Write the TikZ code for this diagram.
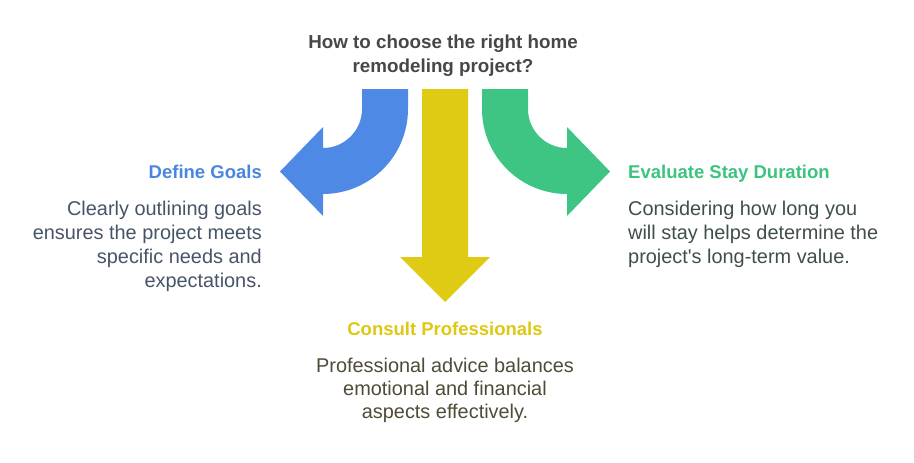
\documentclass[tikz,border=0pt]{standalone}
\usepackage{fontspec}
\setmainfont{Liberation Sans}
\newfontfamily\plainf{Liberation Sans}
\definecolor{cblue}{HTML}{4E89E6}
\definecolor{cyellow}{HTML}{DFCB14}
\definecolor{cgreen}{HTML}{3EC584}
\definecolor{tblue}{HTML}{4A86E0}
\definecolor{tyellow}{HTML}{DDC812}
\definecolor{tgreen}{HTML}{3CC37F}
\definecolor{ttitle}{HTML}{474747}
\definecolor{bblue}{HTML}{475467}
\definecolor{bgreen}{HTML}{3F4F47}
\definecolor{byellow}{HTML}{4F4B36}
\begin{document}
\begin{tikzpicture}[x=1pt,y=-1pt,
  txt/.style={inner sep=0pt,font=\plainf\fontsize{19.9}{24}\selectfont},
  head/.style={inner sep=0pt,font=\plainf\fontsize{18.5}{24}\selectfont\bfseries},
  ttl/.style={inner sep=0pt,font=\plainf\fontsize{18.8}{24}\selectfont\bfseries,text=ttitle}]
\useasboundingbox (0,0) rectangle (914,463);
% blue arrow
\fill[cblue] (362,89) -- (408,89) -- (408,109)
  .. controls (408,155.9) and (369.9,194) .. (323,194)
  -- (323,216) -- (280,171.5) -- (323,127) -- (323,148)
  .. controls (344.5,148) and (362,130.5) .. (362,109) -- cycle;
% yellow arrow
\fill[cyellow] (422,89) -- (468,89) -- (468,257) -- (490,257) -- (445,302) -- (400,257) -- (422,257) -- cycle;
% green arrow
\fill[cgreen] (528,89) -- (482,89) -- (482,109)
  .. controls (482,155.9) and (520.1,194) .. (567,194)
  -- (567,216) -- (610,171.5) -- (567,127) -- (567,148)
  .. controls (545.5,148) and (528,130.5) .. (528,109) -- cycle;
% title
\node[ttl,anchor=base] (t1) at (443,48) {How to choose the right home};
\node[ttl,anchor=base] (t2) at (443,72) {remodeling project?};
% left
\node[head,text=tblue,anchor=base east] (lh) at (262,178) {Define Goals};
\node[txt,text=bblue,anchor=base east] (l1) at (262,215) {Clearly outlining goals};
\node[txt,text=bblue,anchor=base east] (l2) at (262,239) {ensures the project meets};
\node[txt,text=bblue,anchor=base east] (l3) at (262,263) {specific needs and};
\node[txt,text=bblue,anchor=base east] (l4) at (262,287) {expectations.};
% right
\node[head,text=tgreen,anchor=base west] (rh) at (628,178) {Evaluate Stay Duration};
\node[txt,text=bgreen,anchor=base west] (r1) at (628,215) {Considering how long you};
\node[txt,text=bgreen,anchor=base west] (r2) at (628,239) {will stay helps determine the};
\node[txt,text=bgreen,anchor=base west] (r3) at (628,263) {project's long-term value.};
% bottom
\node[head,text=tyellow,anchor=base] (bh) at (445,335) {Consult Professionals};
\node[txt,text=byellow,anchor=base] (b1) at (445,372) {Professional advice balances};
\node[txt,text=byellow,anchor=base] (b2) at (445,395) {emotional and financial};
\node[txt,text=byellow,anchor=base] (b3) at (445,418) {aspects effectively.};
\end{tikzpicture}
\end{document}
